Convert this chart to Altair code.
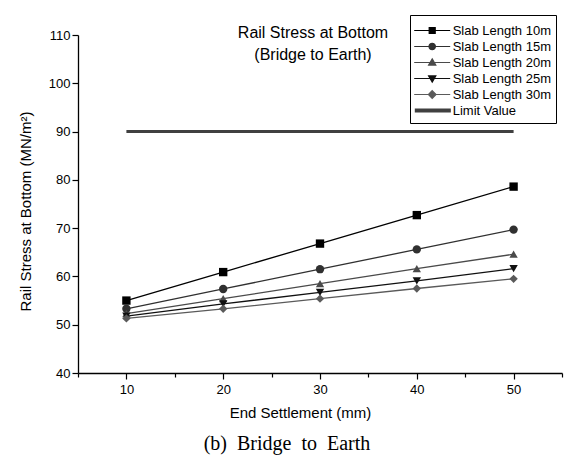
import altair as alt
import pandas as pd

# ---- data ----
settlement = [10, 20, 30, 40, 50]
series_names = ["Slab Length 10m", "Slab Length 15m", "Slab Length 20m",
                "Slab Length 25m", "Slab Length 30m"]
stress_10 = [55.0, 60.9, 66.8, 72.7, 78.6]
stress_15 = [53.3, 57.4, 61.5, 65.6, 69.7]
stress_20 = [52.3, 55.4, 58.5, 61.6, 64.6]
stress_25 = [51.8, 54.3, 56.7, 59.1, 61.6]
stress_30 = [51.3, 53.3, 55.4, 57.5, 59.5]
limit_name = "Limit Value"
limit_value = 90
limit_start = 10
limit_end = 50

series_colors = ["#000000", "#303030", "#4a4a4a", "#101010", "#5a5a5a"]
series_shapes = ["square", "circle", "triangle-up", "triangle-down", "diamond"]
limit_color = "#404040"

# legend symbols: short line stubs with the marker in the middle
legend_paths = [
    "M-4.5,0H4.5M-0.75,-0.75H0.75V0.75H-0.75Z",
    "M-4.5,0H4.5M0.8,0A0.8,0.8,0,1,1,-0.8,0A0.8,0.8,0,1,1,0.8,0Z",
    "M-4.5,0H4.5M0,-0.9L0.9,0.65H-0.9Z",
    "M-4.5,0H4.5M0,0.9L0.9,-0.65H-0.9Z",
    "M-4.5,0H4.5M0,-0.95L0.95,0L0,0.95L-0.95,0Z",
    "M-4.2,-0.35H4.5V0.35H-4.2Z",
]

rows = []
for name, vals in zip(series_names,
                      [stress_10, stress_15, stress_20, stress_25, stress_30]):
    for s, v in zip(settlement, vals):
        rows.append({"Series": name, "Settlement": s, "Stress": v})
df = pd.DataFrame(rows)
df["Legend"] = df["Series"]

limit_df = pd.DataFrame({"x": [limit_start], "x2": [limit_end], "y": [limit_value]})

font = "Liberation Sans"

x_scale = alt.Scale(domain=[5, 55], nice=False, zero=False)
y_scale = alt.Scale(domain=[40, 110], nice=False, zero=False)

x_axis = alt.Axis(
    title="End Settlement (mm)",
    values=list(range(5, 60, 5)),
    labelExpr="datum.value % 10 === 0 ? datum.label : ''",
    tickSize={"condition": {"test": "datum.value % 10 === 0", "value": 6}, "value": 4},
    grid=False, labelFlush=False, labelPadding=4,
    titleX=222, titleY=32, titleBaseline="top",
)
y_axis = alt.Axis(
    title="Rail Stress at Bottom (MN/m\u00b2)",
    values=list(range(40, 115, 5)),
    labelExpr="datum.value % 10 === 0 ? datum.label : ''",
    tickSize={"condition": {"test": "datum.value % 10 === 0", "value": 6}, "value": 3},
    grid=False, labelFlush=False, labelPadding=2, titlePadding=15, titleY=176,
)

color_scale = alt.Scale(domain=series_names, range=series_colors)

base = alt.Chart(df)

lines = base.mark_line(strokeWidth=1.3).encode(
    x=alt.X("Settlement:Q", scale=x_scale, axis=x_axis),
    y=alt.Y("Stress:Q", scale=y_scale, axis=y_axis),
    color=alt.Color("Series:N", scale=color_scale, legend=None),
    detail="Series:N",
)

points = base.mark_point(filled=True, opacity=1, size=70).encode(
    x=alt.X("Settlement:Q", scale=x_scale),
    y=alt.Y("Stress:Q", scale=y_scale),
    color=alt.Color("Series:N", scale=color_scale, legend=None),
    shape=alt.Shape("Series:N", scale=alt.Scale(domain=series_names, range=series_shapes),
                    legend=None),
)

limit = alt.Chart(limit_df).mark_rule(strokeWidth=3, color=limit_color).encode(
    x=alt.X("x:Q", scale=x_scale),
    x2="x2:Q",
    y=alt.Y("y:Q", scale=y_scale),
)

legend_domain = series_names + [limit_name]
legend_colors = series_colors + [limit_color]
legend_def = alt.Legend(
    orient="none", legendX=332, legendY=-20, title=" ",
    titleFontSize=4, titlePadding=0,
    strokeColor="black", padding=5,
    labelFont=font, labelFontSize=13, labelColor="black",
    symbolSize=64, symbolStrokeWidth=1.2, symbolOffset=10.7, labelOffset=14,
    rowPadding=2.0,
)
legend_layer = base.mark_point(filled=True, opacity=1).encode(
    x=alt.X("Settlement:Q", scale=x_scale),
    y=alt.Y("Stress:Q", scale=y_scale),
    shape=alt.Shape("Legend:N", scale=alt.Scale(domain=legend_domain, range=legend_paths),
                    legend=legend_def),
    fill=alt.Fill("Legend:N", scale=alt.Scale(domain=legend_domain, range=legend_colors),
                  legend=legend_def),
    stroke=alt.Stroke("Legend:N", scale=alt.Scale(domain=legend_domain, range=legend_colors),
                      legend=legend_def),
).transform_filter("false")

title_text = alt.Chart(pd.DataFrame({"a": [0]})).mark_text(
    text=["Rail Stress at Bottom", "(Bridge to Earth)"],
    font=font, fontSize=16, color="black", align="center", baseline="top",
    lineHeight=22,
).encode(x=alt.value(235), y=alt.value(-10))

chart = alt.layer(lines, points, limit, legend_layer, title_text).resolve_scale(
    shape="independent", color="independent", fill="independent", stroke="independent"
).properties(
    width=484, height=338,
    padding={"left": 78, "top": 35, "right": 5, "bottom": 86},
    autosize=alt.AutoSizeParams(type="none"),
    background="white",
    title=alt.TitleParams(
        "(b)\u00a0 Bridge\u00a0 to\u00a0 Earth", orient="bottom", anchor="middle",
        font="Liberation Serif", fontSize=20, fontWeight="normal", color="black",
        offset=14, dx=-33,
    ),
).configure_view(stroke=None).configure_axis(
    domainColor="black", domainWidth=1.3, tickColor="black", tickWidth=1.2,
    labelFont=font, labelFontSize=13, labelColor="black",
    titleFont=font, titleFontSize=15, titleFontWeight="normal", titleColor="black",
)

chart.save("out.html", embed_options={"renderer": "svg", "actions": False})
